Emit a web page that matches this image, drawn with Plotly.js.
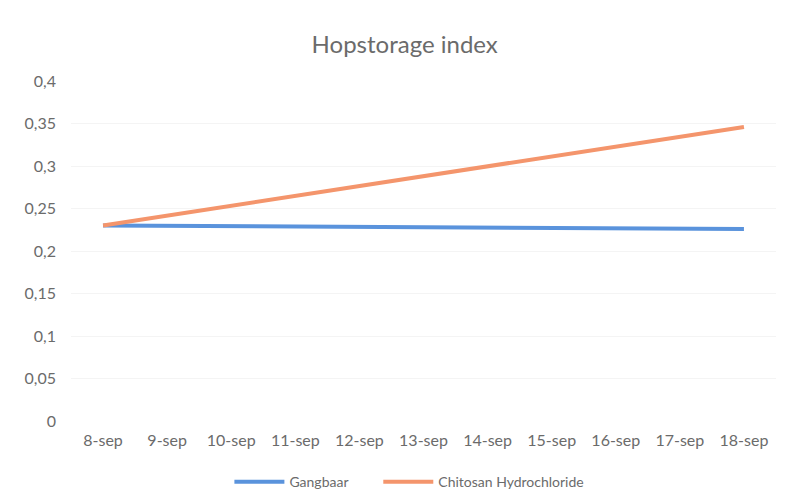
<!DOCTYPE html>
<html>
<head>
<meta charset="utf-8">
<script src="https://cdn.plot.ly/plotly-3.0.1.min.js"></script>
<style>html,body{margin:0;padding:0;background:#fff;}#chart{width:792px;height:493px;}</style>
</head>
<body>
<div id="chart"></div>
<script>
const categories = ["8-sep","9-sep","10-sep","11-sep","12-sep","13-sep","14-sep","15-sep","16-sep","17-sep","18-sep"];
const gangbaar = [0.23, null, null, null, null, null, null, null, null, null, 0.226];
const chitosan = [0.23, null, null, null, null, null, null, null, null, null, 0.346];
const yTickVals = [0, 0.05, 0.1, 0.15, 0.2, 0.25, 0.3, 0.35, 0.4];
const yTickText = ["0","0,05","0,1","0,15","0,2","0,25","0,3","0,35","0,4"];

const font = "Lato, 'Open Sans', sans-serif";
const traces = [
  {x: categories, y: gangbaar, name: "Gangbaar&nbsp;&nbsp;&nbsp;&nbsp;&nbsp;&nbsp;&nbsp;", type: "scatter", mode: "lines", connectgaps: true,
   line: {color: "#5a93dc", width: 4}},
  {x: categories, y: chitosan, name: "Chitosan Hydrochloride", type: "scatter", mode: "lines", connectgaps: true,
   line: {color: "#f4956c", width: 4}}
];
const layout = {
  width: 792, height: 493,
  margin: {l: 71, r: 16, t: 81, b: 72},
  paper_bgcolor: "#fff", plot_bgcolor: "#fff",
  font: {family: font, color: "#6b6b6b", size: 16},
  title: {text: "Hopstorage index", x: 0.511, xanchor: "center", y: 0.909, yanchor: "middle",
          font: {family: font, size: 24, color: "#6b6b6b"}},
  xaxis: {type: "category", range: [-0.5, 10.5], showgrid: false, zeroline: false, showline: false,
          ticks: "", ticklabelstandoff: 8, tickfont: {size: 16, color: "#6b6b6b"}, fixedrange: true},
  yaxis: {range: [0, 0.4], tickvals: yTickVals, ticktext: yTickText, showgrid: true, gridcolor: "#f4f4f4",
          gridwidth: 1, zeroline: false, showline: false, ticks: "", ticklabelstandoff: 14,
          tickfont: {size: 16, color: "#6b6b6b"}, fixedrange: true},
  showlegend: true,
  legend: {orientation: "h", x: 0.48, xanchor: "center", yref: "container", y: 0.022, yanchor: "middle",
           font: {size: 14, color: "#6b6b6b"}, itemwidth: 50, tracegroupgap: 0},
};
Plotly.newPlot("chart", traces, layout, {displayModeBar: false, staticPlot: true});
</script>
</body>
</html>
